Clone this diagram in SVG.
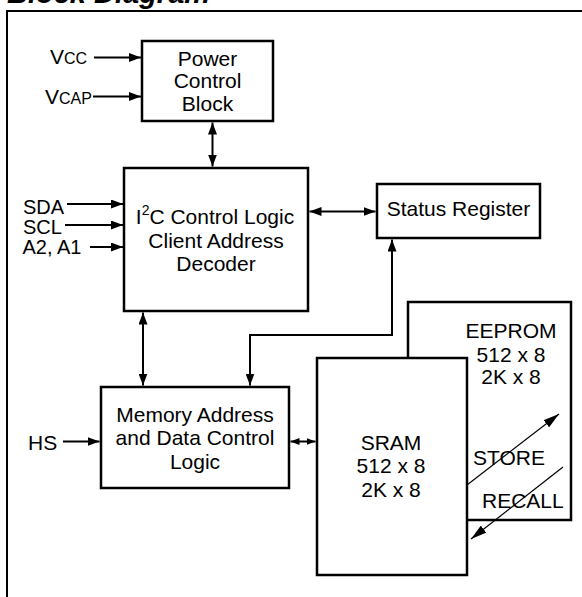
<svg xmlns="http://www.w3.org/2000/svg" width="582" height="597" viewBox="0 0 582 597">
<style>
text{font-family:"Liberation Sans",Arial,sans-serif;font-size:21px;fill:#000}
.box{fill:#fff;stroke:#000;stroke-width:2.5}
.c{fill:none;stroke:#000;stroke-width:2}
.thin{fill:none;stroke:#000;stroke-width:1.2}
.mid{text-anchor:middle}
.sm{font-size:16px}
.pin{font-size:20px}
</style>
<defs>
<marker id="ah" markerUnits="userSpaceOnUse" markerWidth="12" markerHeight="9" refX="12" refY="4.5" orient="auto-start-reverse"><path d="M0,0 L12,4.5 L0,9 Z" fill="#000"/></marker>
<marker id="ahs" markerUnits="userSpaceOnUse" markerWidth="9" markerHeight="7" refX="9" refY="3.5" orient="auto-start-reverse"><path d="M0,0 L9,3.5 L0,7 Z" fill="#000"/></marker>
<marker id="aht" markerUnits="userSpaceOnUse" markerWidth="16" markerHeight="9" refX="16" refY="4.5" orient="auto"><path d="M0,0 L16,4.5 L0,9 Z" fill="#000"/></marker>
</defs>
<text x="7" y="3" style="font-size:29px;font-weight:bold;font-style:italic">Block Diagram</text>
<path d="M7,597 L7,11 L582,11" fill="none" stroke="#000" stroke-width="2"/>

<g id="eeprom">
<rect class="box" x="408" y="302" width="163" height="218"/>
<text class="mid" x="511" y="338">EEPROM</text>
<text class="mid" x="511" y="361.5">512 x 8</text>
<text class="mid" x="511" y="383.5">2K x 8</text>
</g>
<g id="power">
<rect class="box" x="142" y="41" width="131" height="80"/>
<text class="mid" x="207.5" y="65.5">Power</text>
<text class="mid" x="207.5" y="88">Control</text>
<text class="mid" x="207.5" y="111">Block</text>
</g>
<g id="i2c">
<rect class="box" x="124" y="168" width="184" height="143"/>
<text class="mid" x="215" y="223.5">I<tspan font-size="14" dy="-8.5">2</tspan><tspan dy="8.5">C Control Logic</tspan></text>
<text class="mid" x="216" y="247.5">Client Address</text>
<text class="mid" x="216" y="271">Decoder</text>
</g>
<g id="status">
<rect class="box" x="377" y="184" width="163" height="54"/>
<text class="mid" x="458.5" y="216">Status Register</text>
</g>
<g id="memory">
<rect class="box" x="101" y="387" width="188" height="101"/>
<text class="mid" x="195" y="421.5">Memory Address</text>
<text class="mid" x="195" y="445">and Data Control</text>
<text class="mid" x="195" y="468.5">Logic</text>
</g>
<g id="sram">
<rect class="box" x="317" y="358" width="150" height="217"/>
<text class="mid" x="391" y="450">SRAM</text>
<text class="mid" x="391" y="473">512 x 8</text>
<text class="mid" x="391" y="497">2K x 8</text>
</g>
<g id="labels">
<text x="50" y="64">V<tspan class="sm">CC</tspan></text>
<text x="45" y="104">V<tspan class="sm">CAP</tspan></text>
<text class="pin" x="23" y="214">SDA</text>
<text class="pin" x="23" y="234">SCL</text>
<text class="pin" x="22.5" y="254">A2, A1</text>
<text x="28" y="450">HS</text>
<text x="473" y="465">STORE</text>
<text x="482" y="508">RECALL</text>
</g>
<g id="connectors">
<line class="c" x1="94" y1="57.5" x2="141" y2="57.5" marker-end="url(#ah)"/>
<line class="c" x1="93" y1="96.5" x2="141" y2="96.5" marker-end="url(#ah)"/>
<line class="c" x1="212.5" y1="122.5" x2="212.5" y2="166.5" marker-start="url(#ah)" marker-end="url(#ah)"/>
<line class="c" x1="67" y1="204" x2="123" y2="204" marker-end="url(#ah)"/>
<line class="c" x1="65" y1="225" x2="123" y2="225" marker-end="url(#ah)"/>
<line class="c" x1="90" y1="247" x2="123" y2="247" marker-end="url(#ah)"/>
<line class="c" x1="309.5" y1="211.5" x2="375.5" y2="211.5" marker-start="url(#ah)" marker-end="url(#ah)"/>
<line class="c" x1="143" y1="312.5" x2="143" y2="385.5" marker-start="url(#ah)" marker-end="url(#ah)"/>
<path class="c" d="M392,239.5 L392,335 L250,335 L250,385.5" marker-start="url(#ah)" marker-end="url(#ah)"/>
<line class="c" x1="63" y1="441.5" x2="99.5" y2="441.5" marker-end="url(#ah)"/>
<line class="c" x1="290.5" y1="441.5" x2="315.5" y2="441.5" marker-start="url(#ahs)" marker-end="url(#ahs)"/>
<line class="thin" x1="467" y1="485" x2="559" y2="414" marker-end="url(#aht)"/>
<line class="thin" x1="563" y1="467" x2="471" y2="539" marker-end="url(#aht)"/>
</g>
</svg>
